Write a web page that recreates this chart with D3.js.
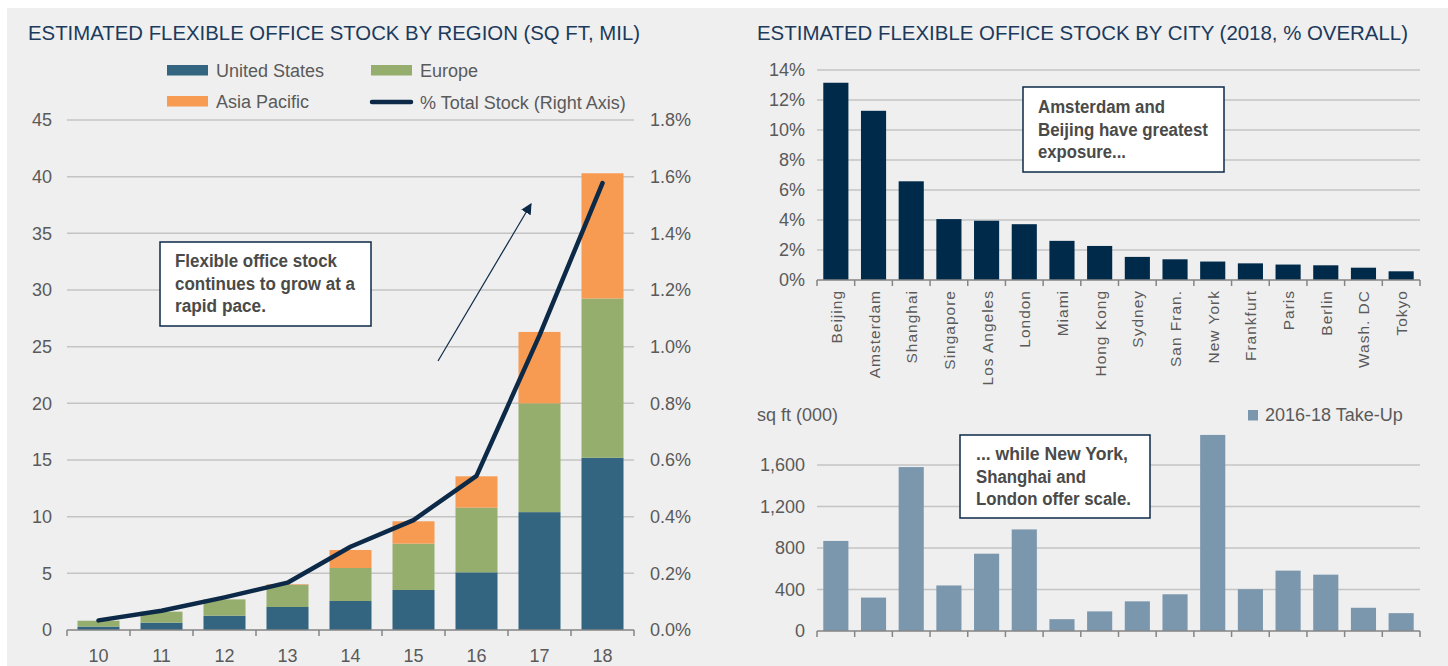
<!DOCTYPE html>
<html><head><meta charset="utf-8">
<script src="https://cdn.jsdelivr.net/npm/d3@7"></script>
<style>
html,body{margin:0;padding:0;background:#fff;}
svg{display:block;}
text{font-family:"Liberation Sans",Arial,sans-serif;}
</style></head><body>
<svg id="c" width="1448" height="666"></svg>
<script>
// ---------- DATA ----------
const years = ["10","11","12","13","14","15","16","17","18"];
const usStock = [0.3, 0.65, 1.26, 2.03, 2.56, 3.53, 5.09, 10.4, 15.2];
const europeStock = [0.52, 0.97, 1.44, 1.97, 2.91, 4.09, 5.71, 9.6, 14.05];
const asiaStock = [0, 0, 0, 0.05, 1.59, 1.97, 2.76, 6.3, 11.05];
const pctTotal = [0.034, 0.068, 0.115, 0.167, 0.294, 0.388, 0.544, 1.04, 1.577];
const leftTicks = [0, 5, 10, 15, 20, 25, 30, 35, 40, 45];
const rightTicks = [0, 0.2, 0.4, 0.6, 0.8, 1.0, 1.2, 1.4, 1.6, 1.8];

const cities = ["Beijing","Amsterdam","Shanghai","Singapore","Los Angeles","London","Miami","Hong Kong","Sydney","San Fran.","New York","Frankfurt","Paris","Berlin","Wash. DC","Tokyo"];
const cityShare = [13.15, 11.28, 6.58, 4.06, 3.95, 3.72, 2.61, 2.27, 1.54, 1.38, 1.23, 1.11, 1.03, 0.98, 0.82, 0.58];
const shareTicks = [0, 2, 4, 6, 8, 10, 12, 14];
const takeUp = [868, 322, 1580, 439, 745, 979, 114, 189, 286, 354, 1890, 403, 582, 543, 224, 172];
const takeUpTicks = [0, 400, 800, 1200, 1600];

// ---------- STYLE ----------
const C = {
  bg:"#efefef", title:"#1b3a5c", tick:"#5a5a5a", grid:"#c4c4c4", axis:"#858585",
  us:"#336480", eu:"#95ad6d", ap:"#f79a52", line:"#0c2a47",
  city:"#002a4a", take:"#7b97ae", boxBorder:"#0c2a47", note:"#4a4a48"
};
const svg = d3.select("#c");
svg.append("rect").attr("x",7).attr("y",8).attr("width",1441).attr("height",658).attr("fill",C.bg);

function title(x, y, txt, len){
  svg.append("text").attr("x",x).attr("y",y).attr("fill",C.title)
    .attr("font-size",20).attr("textLength",len).attr("lengthAdjust","spacingAndGlyphs").text(txt);
}
function note(x0,y0,w,h,lines,widths,tx,ty){
  svg.append("rect").attr("x",x0).attr("y",y0).attr("width",w).attr("height",h)
    .attr("fill","#fff").attr("stroke",C.boxBorder).attr("stroke-width",1.5);
  lines.forEach((l,i)=>svg.append("text").attr("x",tx).attr("y",ty+i*22.5)
    .attr("fill",C.note).attr("font-size",17.5).attr("font-weight","bold")
    .attr("textLength",widths[i]).attr("lengthAdjust","spacingAndGlyphs").text(l));
}

// ---------- LEFT CHART ----------
title(28, 40, "ESTIMATED FLEXIBLE OFFICE STOCK BY REGION (SQ FT, MIL)", 612);

const xL = d3.scaleBand().domain(years).range([67, 634]).paddingInner(1/3).paddingOuter(1/6);
const yL = d3.scaleLinear().domain([0,45]).range([630,120]);
const yR = d3.scaleLinear().domain([0,1.8]).range([630,120]);

const gL = svg.append("g");
gL.append("g").selectAll("line").data(leftTicks.slice(1)).join("line")
  .attr("x1",67).attr("x2",634).attr("y1",d=>yL(d)).attr("y2",d=>yL(d))
  .attr("stroke",C.grid).attr("stroke-width",1.5);

const stackData = years.map((y,i)=>({year:y, us:usStock[i], eu:europeStock[i], ap:asiaStock[i]}));
const series = d3.stack().keys(["us","eu","ap"])(stackData);
const colMap = {us:C.us, eu:C.eu, ap:C.ap};
gL.append("g").selectAll("g").data(series).join("g").attr("fill",d=>colMap[d.key])
  .selectAll("rect").data(d=>d).join("rect")
  .attr("x",d=>xL(d.data.year)).attr("width",xL.bandwidth())
  .attr("y",d=>yL(d[1])).attr("height",d=>Math.max(0,yL(d[0])-yL(d[1])));

gL.append("g").call(d3.axisLeft(yL).tickValues(leftTicks).tickSize(0).tickPadding(0))
  .attr("transform","translate(52,0)")
  .call(g=>g.select(".domain").remove())
  .selectAll("text").attr("fill",C.tick).attr("font-size",18).attr("font-family",null);
gL.append("g").call(d3.axisRight(yR).tickValues(rightTicks).tickSize(0).tickPadding(0).tickFormat(d=>d3.format(".1f")(d)+"%"))
  .attr("transform","translate(650,0)")
  .call(g=>g.select(".domain").remove())
  .selectAll("text").attr("fill",C.tick).attr("font-size",18).attr("font-family",null);

const xLBounds = years.map(y=>xL(y)-xL.step()*xL.paddingInner()/2).concat([634]);
gL.append("line").attr("x1",67).attr("x2",634).attr("y1",630).attr("y2",630).attr("stroke",C.axis).attr("stroke-width",1.5);
gL.append("g").selectAll("line").data(xLBounds).join("line")
  .attr("x1",d=>d).attr("x2",d=>d).attr("y1",630).attr("y2",636).attr("stroke",C.axis).attr("stroke-width",1.5);
gL.append("g").selectAll("text").data(years).join("text")
  .attr("x",d=>xL(d)+xL.bandwidth()/2).attr("y",662).attr("text-anchor","middle")
  .attr("fill",C.tick).attr("font-size",18).text(d=>d);

const lineGen = d3.line().x((d,i)=>xL(years[i])+xL.bandwidth()/2).y(d=>yR(d));
gL.append("path").datum(pctTotal).attr("d",lineGen).attr("fill","none")
  .attr("stroke",C.line).attr("stroke-width",4.5).attr("stroke-linecap","round").attr("stroke-linejoin","round");

const legItems = [
  {t:"United States", c:C.us, x:167, y:70, type:"rect"},
  {t:"Europe", c:C.eu, x:371, y:70, type:"rect"},
  {t:"Asia Pacific", c:C.ap, x:167, y:101, type:"rect"},
  {t:"% Total Stock (Right Axis)", c:C.line, x:371, y:102, type:"line"}
];
legItems.forEach(d=>{
  if(d.type==="rect") svg.append("rect").attr("x",d.x).attr("y",d.y-5).attr("width",41).attr("height",10.5).attr("fill",d.c);
  else svg.append("line").attr("x1",d.x+1).attr("x2",d.x+40).attr("y1",d.y).attr("y2",d.y).attr("stroke",d.c).attr("stroke-width",4.5).attr("stroke-linecap","round");
  svg.append("text").attr("x",d.x+49).attr("y",d.y+6.5).attr("fill",C.tick).attr("font-size",18).text(d.t);
});

const defs = svg.append("defs");
defs.append("marker").attr("id","ah").attr("viewBox","0 0 10 10").attr("refX",9).attr("refY",5)
  .attr("markerWidth",11).attr("markerHeight",11).attr("markerUnits","userSpaceOnUse").attr("orient","auto")
  .append("path").attr("d","M0,0 L10,5 L0,10 z").attr("fill",C.line);
svg.append("line").attr("x1",438).attr("y1",361).attr("x2",531).attr("y2",204)
  .attr("stroke",C.line).attr("stroke-width",1.2).attr("marker-end","url(#ah)");

note(160, 242, 211, 84, ["Flexible office stock","continues to grow at a","rapid pace."], [162,180,91], 175, 267);

// ---------- RIGHT TOP ----------
title(757, 40, "ESTIMATED FLEXIBLE OFFICE STOCK BY CITY (2018, % OVERALL)", 651);
const xC = d3.scaleBand().domain(cities).range([817,1420]).paddingInner(1/3).paddingOuter(1/6);
const yC = d3.scaleLinear().domain([0,14]).range([280,70]);
const gT = svg.append("g");
gT.append("g").selectAll("line").data(shareTicks.slice(1)).join("line")
  .attr("x1",817).attr("x2",1420).attr("y1",d=>yC(d)).attr("y2",d=>yC(d))
  .attr("stroke",C.grid).attr("stroke-width",1.5);
gT.append("g").selectAll("rect").data(cities).join("rect")
  .attr("x",d=>xC(d)).attr("width",xC.bandwidth())
  .attr("y",(d,i)=>yC(cityShare[i])).attr("height",(d,i)=>280-yC(cityShare[i])).attr("fill",C.city);
gT.append("g").call(d3.axisLeft(yC).tickValues(shareTicks).tickSize(0).tickPadding(0).tickFormat(d=>d+"%"))
  .attr("transform","translate(805,0)")
  .call(g=>g.select(".domain").remove())
  .selectAll("text").attr("fill",C.tick).attr("font-size",18).attr("font-family",null);
const xCBounds = cities.map(c=>xC(c)-xC.step()*xC.paddingInner()/2).concat([1420]);
gT.append("line").attr("x1",817).attr("x2",1420).attr("y1",280).attr("y2",280).attr("stroke",C.axis).attr("stroke-width",1.5);
gT.append("g").selectAll("line").data(xCBounds).join("line")
  .attr("x1",d=>d).attr("x2",d=>d).attr("y1",280).attr("y2",286).attr("stroke",C.axis).attr("stroke-width",1.5);
gT.append("g").selectAll("text").data(cities).join("text")
  .attr("transform",d=>`translate(${xC(d)+xC.bandwidth()/2+6},290) rotate(-90)`)
  .attr("text-anchor","end").attr("fill",C.tick).attr("font-size",15.5)
  .attr("letter-spacing",1).text(d=>d);

note(1023, 87, 201, 85, ["Amsterdam and","Beijing have greatest","exposure..."], [127,170,88], 1038, 113);

// ---------- RIGHT BOTTOM ----------
const yB = d3.scaleLinear().domain([0,2000]).range([631,423.5]);
const gB = svg.append("g");
gB.append("g").selectAll("line").data(takeUpTicks.slice(1)).join("line")
  .attr("x1",817).attr("x2",1420).attr("y1",d=>yB(d)).attr("y2",d=>yB(d))
  .attr("stroke",C.grid).attr("stroke-width",1.5);
gB.append("g").selectAll("rect").data(cities).join("rect")
  .attr("x",d=>xC(d)).attr("width",xC.bandwidth())
  .attr("y",(d,i)=>yB(takeUp[i])).attr("height",(d,i)=>631-yB(takeUp[i])).attr("fill",C.take);
gB.append("g").call(d3.axisLeft(yB).tickValues(takeUpTicks).tickSize(0).tickPadding(0).tickFormat(d3.format(",")))
  .attr("transform","translate(805,0)")
  .call(g=>g.select(".domain").remove())
  .selectAll("text").attr("fill",C.tick).attr("font-size",18).attr("font-family",null);
gB.append("line").attr("x1",817).attr("x2",1420).attr("y1",631).attr("y2",631).attr("stroke",C.axis).attr("stroke-width",1.5);
gB.append("g").selectAll("line").data(xCBounds).join("line")
  .attr("x1",d=>d).attr("x2",d=>d).attr("y1",631).attr("y2",637).attr("stroke",C.axis).attr("stroke-width",1.5);
svg.append("text").attr("x",757).attr("y",421).attr("fill",C.tick).attr("font-size",18).text("sq ft (000)");
svg.append("rect").attr("x",1248).attr("y",410).attr("width",10).attr("height",10.5).attr("fill",C.take);
svg.append("text").attr("x",1265).attr("y",421).attr("fill",C.tick).attr("font-size",18).text("2016-18 Take-Up");

note(960, 435, 190, 83, ["... while New York,","Shanghai and","London offer scale."], [152,110,155], 976, 460);
</script>
</body></html>
